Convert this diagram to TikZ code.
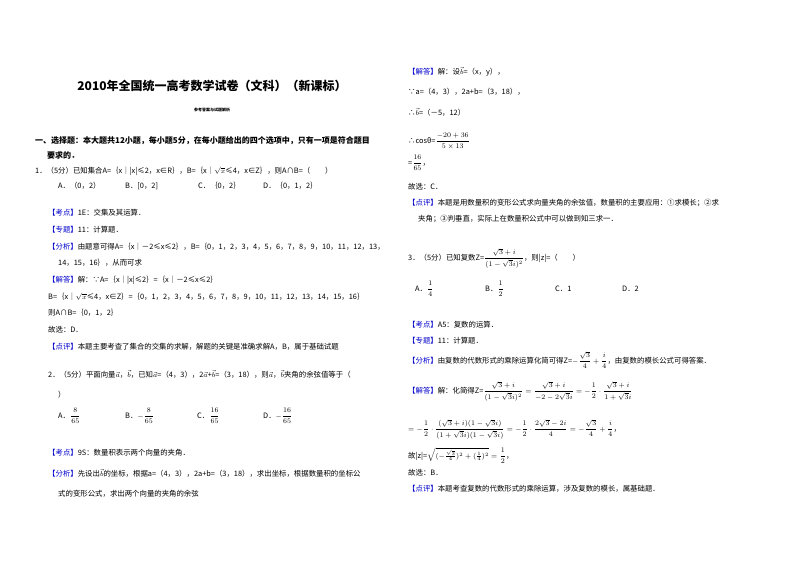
\documentclass[tikz,border=0pt]{standalone}
\usepackage{fontspec}
\newfontfamily\cjk{Noto Sans CJK SC}
\usepackage{amsmath}
\begin{document}
\begin{tikzpicture}[x=1pt,y=-1pt,
 t/.style={anchor=base west,inner sep=0pt,font=\cjk\fontsize{7.4}{8}\selectfont},
 tb/.style={t,font=\cjk\bfseries\fontsize{8}{9}\selectfont}]
\newcommand{\lb}[1]{\textcolor{blue!80!black}{【#1】}}
\useasboundingbox[fill=white] (0,0) rectangle (800,565);
\node[anchor=base,inner sep=0pt,font=\cjk\bfseries\fontsize{12}{14}\selectfont] (title) at (212,90) {2010年全国统一高考数学试卷（文科）（新课标）};
\node[anchor=base,inner sep=0pt,font=\cjk\bfseries\fontsize{4}{5}\selectfont] (sub) at (212,111) {参考答案与试题解析};
\node[tb] (s1) at (35,143) {一、选择题：本大题共12小题，每小题5分，在每小题给出的四个选项中，只有一项是符合题目};
\node[tb] (s2) at (47,158) {要求的．};
\node[t] (q1) at (35,173) {1．（5分）已知集合A=｛x｜|x|≤2，x∈R｝，B=｛x｜$\sqrt{x}$≤4，x∈Z｝，则A∩B=（\quad\quad）};
\node[t] (q1a) at (58,188) {A．（0，2）};
\node[t] (q1b) at (125,188) {B．[0，2]};
\node[t] (q1c) at (198,188) {C．｛0，2｝};
\node[t] (q1d) at (263,188) {D．｛0，1，2｝};
\node[t] (k1) at (48,215) {\lb{考点}1E：交集及其运算．};
\node[t] (z1) at (48,232) {\lb{专题}11：计算题．};
\node[t] (f1) at (48,249) {\lb{分析}由题意可得A=｛x｜－2≤x≤2｝，B=｛0，1，2，3，4，5，6，7，8，9，10，11，12，13，};
\node[t] (f1b) at (58,265) {14，15，16｝，从而可求};
\node[t] (j1) at (48,282) {\lb{解答}解：∵A=｛x｜|x|≤2｝=｛x｜－2≤x≤2｝};
\node[t] (j1b) at (48,299) {B=｛x｜$\sqrt{x}$≤4，x∈Z｝=｛0，1，2，3，4，5，6，7，8，9，10，11，12，13，14，15，16｝};
\node[t] (j1c) at (48,315) {则A∩B=｛0，1，2｝};
\node[t] (j1d) at (48,332) {故选：D．};
\node[t] (d1) at (48,349) {\lb{点评}本题主要考查了集合的交集的求解，解题的关键是准确求解A，B，属于基础试题};
\node[t] (q2) at (48,377) {2．（5分）平面向量$\vec a$，$\vec b$，已知$\vec a$=（4，3），2$\vec a$+$\vec b$=（3，18），则$\vec a$，$\vec b$夹角的余弦值等于（};
\node[t] (q2b) at (58,397) {）};
\node[t] (q2a) at (58,418) {A．$\dfrac{8}{65}$};
\node[t] (q2bb) at (125,418) {B．$-\dfrac{8}{65}$};
\node[t] (q2c) at (197,418) {C．$\dfrac{16}{65}$};
\node[t] (q2d) at (263,418) {D．$-\dfrac{16}{65}$};
\node[t] (k2) at (48,455) {\lb{考点}9S：数量积表示两个向量的夹角．};
\node[t] (f2) at (48,476) {\lb{分析}先设出$\vec b$的坐标，根据a=（4，3），2a+b=（3，18），求出坐标，根据数量积的坐标公};
\node[t] (f2b) at (58,496) {式的变形公式，求出两个向量的夹角的余弦};
% right column
\node[t] (j2) at (408,74) {\lb{解答}解：设$\vec b$=（x，y），};
\node[t] (j2b) at (408,94) {∵a=（4，3），2a+b=（3，18），};
\node[t] (j2c) at (408,115) {∴$\vec b$=（－5，12）};
\node[t] (j2d) at (408,143) {∴cosθ=$\dfrac{-20+36}{5\times13}$};
\node[t] (j2e) at (408,165) {=$\dfrac{16}{65}$，};
\node[t] (j2f) at (408,189) {故选：C．};
\node[t] (d2) at (408,205) {\lb{点评}本题是用数量积的变形公式求向量夹角的余弦值，数量积的主要应用：①求模长；②求};
\node[t] (d2b) at (418,221) {夹角；③判垂直，实际上在数量积公式中可以做到知三求一．};
\node[t] (q3) at (408,260) {3．（5分）已知复数Z=$\dfrac{\sqrt3+i}{(1-\sqrt3 i)^2}$，则|z|=（\quad\quad）};
\node[t] (q3a) at (415,291) {A．$\dfrac14$};
\node[t] (q3b) at (485,291) {B．$\dfrac12$};
\node[t] (q3c) at (555,291) {C．1};
\node[t] (q3d) at (622,291) {D．2};
\node[t] (k3) at (408,327) {\lb{考点}A5：复数的运算．};
\node[t] (z3) at (408,343) {\lb{专题}11：计算题．};
\node[t] (f3) at (408,363) {\lb{分析}由复数的代数形式的乘除运算化简可得Z=$-\dfrac{\sqrt3}{4}+\dfrac{i}{4}$，由复数的模长公式可得答案．};
\node[t] (j3) at (408,393) {\lb{解答}解：化简得Z=$\dfrac{\sqrt3+i}{(1-\sqrt3 i)^2}=\dfrac{\sqrt3+i}{-2-2\sqrt3 i}=-\dfrac12\cdot\dfrac{\sqrt3+i}{1+\sqrt3 i}$};
\node[t] (j3b) at (408,431) {$=-\dfrac12\cdot\dfrac{(\sqrt3+i)(1-\sqrt3 i)}{(1+\sqrt3 i)(1-\sqrt3 i)}=-\dfrac12\cdot\dfrac{2\sqrt3-2i}{4}=-\dfrac{\sqrt3}{4}+\dfrac{i}{4}$，};
\node[t] (j3c) at (408,458) {故|z|=$\sqrt{(-\frac{\sqrt3}{4})^2+(\frac14)^2}=\dfrac12$，};
\node[t] (j3d) at (408,475) {故选：B．};
\node[t] (d3) at (408,491) {\lb{点评}本题考查复数的代数形式的乘除运算，涉及复数的模长，属基础题．};
\end{tikzpicture}
\end{document}
